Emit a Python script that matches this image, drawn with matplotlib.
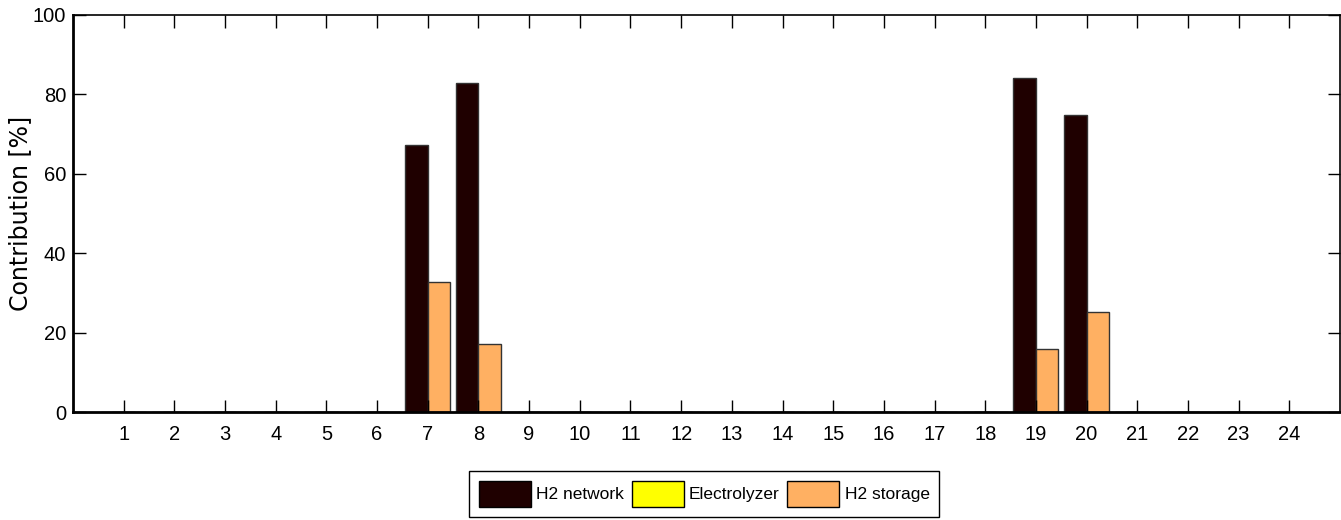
import matplotlib.pyplot as plt
import numpy as np
from matplotlib.patches import Patch

# hourly contribution of each source [%]
hours = list(range(1, 25))
h2_network = [0, 0, 0, 0, 0, 0, 67.2, 82.8, 0, 0, 0, 0,
              0, 0, 0, 0, 0, 0, 84.1, 74.7, 0, 0, 0, 0]
electrolyzer = [0] * 24
h2_storage = [0, 0, 0, 0, 0, 0, 32.8, 17.2, 0, 0, 0, 0,
              0, 0, 0, 0, 0, 0, 15.9, 25.3, 0, 0, 0, 0]
series_names = ['H2 network', 'Electrolyzer', 'H2 storage']
series_colors = ['#1f0000', '#ffff00', '#ffb062']

arial = ['Liberation Sans', 'DejaVu Sans']

fig = plt.figure(figsize=(13.41, 5.2), dpi=100)
ax = fig.add_axes([73 / 1341, 108 / 520, 1267 / 1341, 397 / 520])

x = np.array(hours)
w = 0.444
for k, (vals, c) in enumerate(zip([h2_network, electrolyzer, h2_storage], series_colors)):
    ax.bar(x + (k - 1) * 0.222, vals, width=w, color=c,
           edgecolor='#333333', linewidth=1.0)

ax.set_xlim(0, 25)
ax.set_ylim(0, 100)
ax.set_xticks(hours)
ax.set_yticks([0, 20, 40, 60, 80, 100])
ax.tick_params(axis='both', direction='in', length=9, width=1.0,
               top=True, right=True, labelsize=14.5)
ax.tick_params(axis='x', pad=9)
ax.tick_params(axis='y', pad=5)
for lab in ax.get_xticklabels() + ax.get_yticklabels():
    lab.set_family(arial)
for s in ax.spines.values():
    s.set_linewidth(1.2)
ax.spines['bottom'].set_linewidth(2)
ax.spines['left'].set_linewidth(2)

ax.set_ylabel('Contribution [%]', fontsize=17, family='DejaVu Sans')
ax.yaxis.set_label_coords(-0.032, 0.5)

handles = [Patch(facecolor=c, edgecolor='black', linewidth=1.0) for c in series_colors]
leg = fig.legend(handles, series_names, loc='upper left', ncol=3,
                 bbox_to_anchor=(469 / 1341, 1 - 471 / 520),
                 prop={'family': arial, 'size': 12.5},
                 handlelength=3.0, handleheight=2.0, handletextpad=0.3,
                 columnspacing=0.45, borderpad=0.55, borderaxespad=0,
                 fancybox=False, edgecolor='black', framealpha=1)
leg.get_frame().set_linewidth(1.0)

fig.savefig('out.png', dpi=100)
